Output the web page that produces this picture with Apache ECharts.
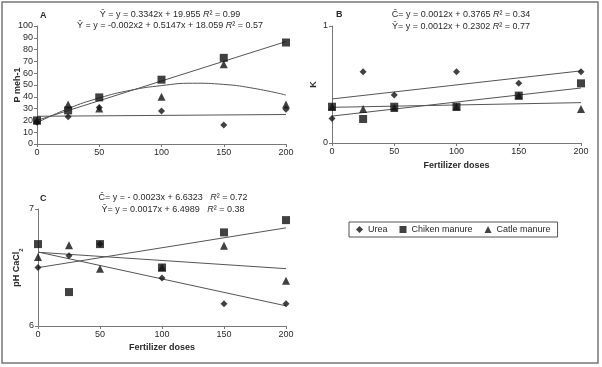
<!DOCTYPE html>
<html lang="en">
<head>
    <meta charset="UTF-8">
    <title>Fertilizer doses</title>
    <script type="text/javascript" src="https://cdn.jsdelivr.net/npm/echarts@6/dist/echarts.min.js"></script>
    <style>
        html, body { margin: 0; padding: 0; background: #fff; }
    </style>
</head>
<body>
    <div id="main" style="width: 602px; height: 367px"></div>
    <script>
        // doses on the x axis
        var doses = [0, 25, 50, 100, 150, 200];
        var trendX = [0, 200];
        var curveX = [0, 25, 50, 75, 100, 125, 150, 175, 200];

        // panel A - P meh-1
        var ureaP = [18.5, 23, 31, 28, 16, 29.5];
        var chickenP = [20, 28.5, 39.5, 54.5, 73, 86];
        var cattleP = [20, 33.5, 30, 40, 67.5, 33.5];
        var ureaPTrend = [23.5, 25];
        var chickenPTrend = [20, 86.8];
        var cattlePCurve = [18, 30, 39, 45.5, 49.5, 51.5, 50.5, 47, 41.5];

        // panel B - K
        var ureaK = [0.21, 0.61, 0.41, 0.61, 0.51, 0.61];
        var chickenK = [0.31, 0.205, 0.31, 0.31, 0.405, 0.51];
        var cattleK = [0.31, 0.29, 0.30, 0.31, 0.405, 0.29];
        var ureaKTrend = [0.3765, 0.6165];
        var chickenKTrend = [0.2302, 0.4702];
        var cattleKTrend = [0.305, 0.345];

        // panel C - pH CaCl2
        var ureaPH = [6.50, 6.60, 6.70, 6.41, 6.19, 6.19];
        var chickenPH = [6.70, 6.29, 6.70, 6.50, 6.80, 6.905];
        var cattlePH = [6.59, 6.69, 6.49, 6.50, 6.686, 6.386];
        var ureaPHTrend = [6.6323, 6.1723];
        var chickenPHTrend = [6.4989, 6.8389];
        var cattlePHTrend = [6.63, 6.49];

        var FONT = '"Liberation Sans", Arial, sans-serif';
        var TXT = '#2a2a2a';
        var AX = '#777';
        var FS = 9;

        function pairs(xs, ys) {
            return xs.map(function (x, i) { return [x, ys[i]]; });
        }

        function xAxis(idx, name, gap) {
            return {
                type: 'value', gridIndex: idx, min: 0, max: 200, interval: 50,
                name: name || '', nameLocation: 'middle', nameGap: gap || 18, nameMoveOverlap: false,
                nameTextStyle: { fontFamily: FONT, fontSize: FS, fontWeight: 'bold', color: TXT },
                axisLine: { lineStyle: { color: AX } },
                axisTick: { show: true, length: 3, lineStyle: { color: AX } },
                axisLabel: { fontFamily: FONT, fontSize: FS, color: TXT, margin: 4 },
                splitLine: { show: false }
            };
        }

        function yAxis(idx, min, max, interval, name, gap) {
            return {
                type: 'value', gridIndex: idx, min: min, max: max, interval: interval,
                name: name, nameLocation: 'middle', nameGap: gap, nameMoveOverlap: false,
                nameTextStyle: {
                    fontFamily: FONT, fontSize: FS, fontWeight: 'bold', color: TXT,
                    rich: { sub: { fontFamily: FONT, fontSize: 6, fontWeight: 'bold', color: TXT, verticalAlign: 'bottom', padding: [0, 0, -3, 0] } }
                },
                axisLine: { show: true, lineStyle: { color: AX } },
                axisTick: { show: true, length: 3, lineStyle: { color: AX } },
                axisLabel: { fontFamily: FONT, fontSize: FS, color: TXT, margin: 4 },
                splitLine: { show: false }
            };
        }

        function dots(name, idx, ys, symbol, size) {
            return {
                name: name, type: 'scatter', xAxisIndex: idx, yAxisIndex: idx,
                data: pairs(doses, ys), symbol: symbol, symbolSize: size,
                itemStyle: { color: '#111' }, silent: true
            };
        }

        function trend(idx, xs, ys, smooth) {
            return {
                type: 'line', xAxisIndex: idx, yAxisIndex: idx,
                data: pairs(xs, ys), symbol: 'none', smooth: !!smooth,
                lineStyle: { color: '#555', width: 1 }, silent: true, z: 1
            };
        }

        function eq(text, x, y) {
            return {
                text: text, left: x, top: y, textAlign: 'center', padding: 0,
                textStyle: {
                    fontFamily: FONT, fontSize: FS, fontWeight: 'normal', color: TXT,
                    rich: { i: { fontFamily: FONT, fontSize: FS, fontStyle: 'italic', color: TXT } }
                }
            };
        }

        function letter(text, x, y) {
            return {
                text: text, left: x, top: y, padding: 0,
                textStyle: { fontFamily: FONT, fontSize: FS, fontWeight: 'bold', color: TXT }
            };
        }

        var myChart = echarts.init(document.getElementById('main'));
        myChart.setOption({
            animation: false,
            backgroundColor: '#fff',
            title: [
                letter('A', 40, 11),
                letter('B', 336, 10),
                letter('C', 40, 194),
                eq('Ŷ = y = 0.3342x + 19.955 {i|R}² = 0.99', 170, 10),
                eq('Ŷ = y = -0.002x2 + 0.5147x + 18.059 {i|R}² = 0.57', 170, 21),
                eq('Ĉ= y = 0.0012x + 0.3765 {i|R}² = 0.34', 461, 10),
                eq('Ŷ= y = 0.0012x + 0.2302 {i|R}² = 0.77', 461, 22),
                eq('Ĉ= y = - 0.0023x + 6.6323   {i|R}² = 0.72', 173, 193),
                eq('Ŷ= y = 0.0017x + 6.4989   {i|R}² = 0.38', 173, 205)
            ],
            graphic: [{
                type: 'rect', shape: { x: 2, y: 2, width: 596, height: 361 },
                style: { fill: 'none', stroke: '#777', lineWidth: 1.5 }, silent: true
            }],
            legend: {
                left: 349, top: 222,
                data: [
                    { name: 'Urea', icon: 'diamond' },
                    { name: 'Chiken manure', icon: 'rect' },
                    { name: 'Catle manure', icon: 'triangle' }
                ],
                itemWidth: 7, itemHeight: 7, itemGap: 12,
                padding: [3, 7, 3, 7],
                borderColor: '#555', borderWidth: 1,
                textStyle: { fontFamily: FONT, fontSize: FS, color: TXT }
            },
            grid: [
                { left: 37, top: 26, width: 249, height: 118 },
                { left: 332, top: 26, width: 249, height: 117 },
                { left: 38, top: 209, width: 248, height: 117 }
            ],
            xAxis: [xAxis(0), xAxis(1, 'Fertilizer doses', 18), xAxis(2, 'Fertilizer doses', 17)],
            yAxis: [
                yAxis(0, 0, 100, 10, 'P meh-1', 15),
                yAxis(1, 0, 1, 1, 'K', 14),
                yAxis(2, 6, 7, 1, 'pH CaCl{sub|2}', 17)
            ],
            series: [
                trend(0, trendX, ureaPTrend),
                trend(0, trendX, chickenPTrend),
                trend(0, curveX, cattlePCurve, true),
                dots('Catle manure', 0, cattleP, 'triangle', 8),
                dots('Urea', 0, ureaP, 'diamond', 7),
                dots('Chiken manure', 0, chickenP, 'rect', 8),

                trend(1, trendX, ureaKTrend),
                trend(1, trendX, chickenKTrend),
                trend(1, trendX, cattleKTrend),
                dots('Catle manure', 1, cattleK, 'triangle', 8),
                dots('Urea', 1, ureaK, 'diamond', 7),
                dots('Chiken manure', 1, chickenK, 'rect', 8),

                trend(2, trendX, ureaPHTrend),
                trend(2, trendX, chickenPHTrend),
                trend(2, trendX, cattlePHTrend),
                dots('Catle manure', 2, cattlePH, 'triangle', 8),
                dots('Urea', 2, ureaPH, 'diamond', 7),
                dots('Chiken manure', 2, chickenPH, 'rect', 8)
            ]
        });
    </script>
</body>
</html>
